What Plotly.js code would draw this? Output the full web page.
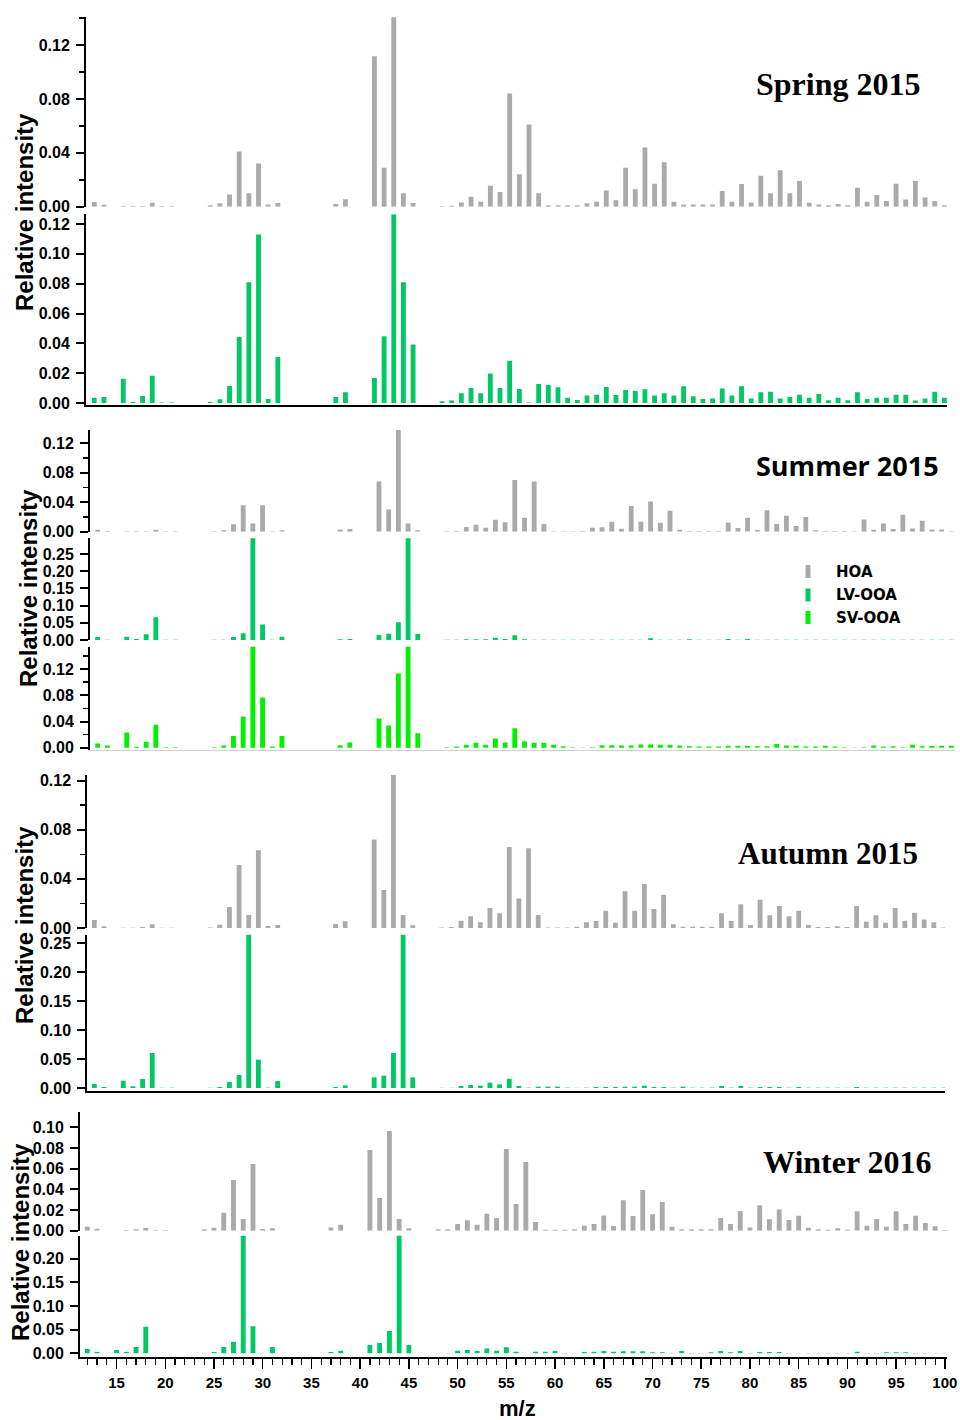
<!DOCTYPE html>
<html><head><meta charset="utf-8">
<script src="https://cdn.plot.ly/plotly-3.0.1.min.js"></script>
<style>html,body{margin:0;padding:0;background:#fff}#chart{width:960px;height:1420px}</style>
</head><body><div id="chart"></div>
<script>
// m/z categories
const mz = [12,13,15,16,17,18,19,20, 24,25,26,27,28,29,30,31, 37,38, 41,42,43,44,45,
  48,49,50,51,52,53,54,55,56, 57,58,59,60,61,62,63,64,65,66, 67,68,69,70,71,72,73,74,75,76,
  77,78,79,80,81,82,83,84,85,86, 87,88,89,90,91,92,93,94,95,96, 97,98,99,100];

const springHOA = [0.0035,0.0015,0.0005,0.0005,0.0005,0.003,0.0005,0.0005,
  0.001,0.0025,0.009,0.041,0.010,0.032,0.0017,0.0027, 0.002,0.0055,
  0.1116,0.029,0.141,0.010,0.0027,
  0.0005,0.0007,0.0032,0.0074,0.0037,0.0156,0.011,0.084,0.024,
  0.061,0.0099,0.001,0.001,0.001,0.001,0.0025,0.0037,0.012,0.0047,
  0.029,0.013,0.044,0.017,0.033,0.0037,0.0017,0.0017,0.0017,0.0017,
  0.0116,0.0037,0.0168,0.0032,0.023,0.010,0.027,0.010,0.019,0.003,
  0.0017,0.001,0.002,0.001,0.014,0.0037,0.0086,0.0042,0.017,0.0054,
  0.019,0.0069,0.0042,0.001];
const springLV = [0.0036,0.004,0.0163,0.0007,0.0047,0.0183,0.0003,0.0003,
  0.0007,0.0025,0.0114,0.0442,0.081,0.113,0.0027,0.0308, 0.004,0.0072,
  0.0168,0.0447,0.1265,0.081,0.0393,
  0.0011,0.0016,0.0065,0.010,0.0065,0.0197,0.010,0.0284,0.0094,
  0.0003,0.0127,0.012,0.0105,0.0036,0.002,0.0051,0.0056,0.0107,0.0054,
  0.0087,0.008,0.0092,0.0051,0.0065,0.0051,0.0112,0.0045,0.0027,0.0031,
  0.0098,0.0051,0.0112,0.0031,0.0072,0.0076,0.0031,0.004,0.0056,0.0036,
  0.006,0.0018,0.0036,0.0018,0.0072,0.0027,0.0036,0.0036,0.0056,0.0056,
  0.0016,0.0031,0.0076,0.0036];
const summerHOA = [0.0027,0.001,0.0005,0.0005,0.0005,0.0027,0.0005,0.0005,
  0.0005,0.002,0.010,0.036,0.011,0.036,0.0005,0.002, 0.003,0.0036,
  0.068,0.030,0.138,0.011,0.0018,
  0.0005,0.001,0.0063,0.0095,0.0054,0.0163,0.0127,0.070,0.019,
  0.068,0.0104,0.0005,0.0005,0.0005,0.001,0.0054,0.006,0.0136,0.004,
  0.035,0.0136,0.041,0.012,0.0285,0.0027,0.001,0.001,0.001,0.001,
  0.012,0.005,0.019,0.0023,0.029,0.0104,0.0217,0.0077,0.02,0.0018,
  0.001,0.001,0.001,0.0005,0.0167,0.0027,0.011,0.0036,0.023,0.0045,
  0.015,0.003,0.003,0.0005];
const summerLV = [0.009,0.0005,0.0097,0.003,0.0165,0.066,0.001,0.001,
  0.001,0.0005,0.009,0.020,0.31,0.045,0.0005,0.0097, 0.002,0.003,
  0.0146,0.018,0.052,0.31,0.0175,
  0.0005,0.0005,0.002,0.002,0.002,0.0068,0.003,0.0136,0.002,
  0.0005,0.0005,0.001,0.001,0.0005,0.0005,0.001,0.001,0.001,0.001,
  0.001,0.001,0.005,0.001,0.001,0.0005,0.002,0.001,0.0005,0.0005,
  0.003,0.0005,0.003,0.0005,0.0005,0.0005,0.0005,0.0005,0.0005,0.0005,
  0.0005,0.0005,0.0005,0.0005,0.0005,0.0005,0.0005,0.0005,0.0005,0.0005,
  0.0005,0.0005,0.0005,0.0005];
const summerSV = [0.0066,0.0035,0.0233,0.0015,0.0091,0.035,0.001,0.001,
  0.001,0.0035,0.0182,0.0476,0.16,0.0765,0.002,0.0182, 0.004,0.0081,
  0.0446,0.034,0.113,0.16,0.0223,
  0.001,0.002,0.0046,0.0076,0.0046,0.0142,0.0081,0.030,0.010,
  0.0076,0.0076,0.0046,0.0025,0.001,0.0005,0.001,0.004,0.004,0.0035,
  0.0035,0.005,0.005,0.0046,0.0046,0.0035,0.0025,0.002,0.002,0.002,
  0.003,0.003,0.003,0.0025,0.0025,0.006,0.0035,0.003,0.002,0.002,
  0.003,0.002,0.001,0.0005,0.001,0.0035,0.002,0.0025,0.001,0.0046,
  0.0025,0.003,0.003,0.003];
const autumnHOA = [0.0065,0.0014,0.0003,0.0003,0.0008,0.003,0.0003,0.0003,
  0.0005,0.0027,0.0171,0.0513,0.0106,0.0633,0.0016,0.0024, 0.0033,0.0054,
  0.072,0.031,0.1246,0.0106,0.0022,
  0.0005,0.0008,0.006,0.0095,0.0046,0.0163,0.012,0.066,0.024,
  0.065,0.0106,0.0005,0.0005,0.0005,0.001,0.0046,0.0057,0.014,0.0043,
  0.030,0.014,0.0358,0.0155,0.027,0.003,0.001,0.001,0.001,0.001,
  0.012,0.0057,0.0193,0.0024,0.023,0.0103,0.018,0.0095,0.014,0.0024,
  0.0008,0.0008,0.0014,0.0008,0.018,0.005,0.0103,0.0043,0.0163,0.006,
  0.0125,0.007,0.0046,0.0005];
const autumnLV = [0.0069,0.0017,0.0127,0.0029,0.0156,0.0605,0.0003,0.0003,
  0.0003,0.0017,0.0104,0.0225,0.28,0.049,0.0006,0.012, 0.0017,0.0046,
  0.0184,0.0213,0.0605,0.28,0.0184,
  0.0003,0.0003,0.0035,0.0052,0.004,0.0092,0.0063,0.016,0.0035,
  0.0006,0.0023,0.0023,0.0023,0.0006,0.0003,0.0006,0.0017,0.0017,0.0017,
  0.0023,0.0023,0.004,0.0017,0.0017,0.0006,0.0023,0.0006,0.0006,0.0006,
  0.0035,0.0006,0.0035,0.0006,0.0017,0.0017,0.0017,0.0006,0.0017,0.0006,
  0.0006,0.0006,0.0006,0.0003,0.0017,0.0006,0.0006,0.0006,0.0006,0.0006,
  0.0006,0.0006,0.0006,0.0006];
const winterHOA = [0.0039,0.0019,0,0.0006,0.0013,0.0026,0.0006,0.0006,
  0.0013,0.0029,0.0174,0.049,0.0113,0.0645,0.0016,0.0023, 0.0032,0.0058,
  0.078,0.0316,0.0965,0.0113,0.0023,
  0.0013,0.0013,0.0065,0.010,0.0058,0.0165,0.0123,0.079,0.0258,
  0.0665,0.0084,0.001,0.001,0.001,0.0013,0.0048,0.0065,0.0148,0.0045,
  0.0294,0.0142,0.0394,0.0158,0.0277,0.0039,0.0013,0.0013,0.0013,0.0013,
  0.0123,0.0065,0.019,0.0032,0.0245,0.011,0.0206,0.0103,0.0145,0.0029,
  0.0013,0.001,0.0023,0.001,0.0187,0.0048,0.0113,0.0039,0.0187,0.0065,
  0.0145,0.0074,0.0042,0.0006];
const winterLV = [0.0092,0.0028,0.007,0.0028,0.0134,0.0563,0.0003,0.0003,
  0.0007,0.0028,0.0134,0.0246,0.26,0.057,0.0007,0.0134, 0.0028,0.0056,
  0.0176,0.0218,0.047,0.26,0.0176,
  0.0007,0.0007,0.0056,0.007,0.005,0.0099,0.0056,0.0127,0.0035,
  0.0003,0.0035,0.0035,0.005,0.0007,0.0007,0.0028,0.0035,0.005,0.0035,
  0.0042,0.0042,0.0042,0.0021,0.0021,0.0007,0.005,0.0007,0.0007,0.0021,
  0.005,0.0021,0.005,0.0007,0.0028,0.0028,0.0028,0.0007,0.0007,0.0007,
  0.0007,0.0007,0.0007,0.0007,0.0035,0.0007,0.0007,0.0021,0.0021,0.0021,
  0.0007,0.0007,0.0007,0.0007];

const seasonTitles = ['Spring 2015','Summer 2015','Autumn 2015','Winter 2016'];
const legendNames = ['HOA','LV-OOA','SV-OOA'];
const yTitle = 'Relative intensity';
const xTitle = 'm/z';

const C_HOA = '#aaaaaa', C_LV = '#00c864', C_SV = '#00f000';
const W = 960, H = 1420;
const fx = v => v / W, fy = v => 1 - v / H;

// panel geometry (pixels)
const panels = [
  {y: springHOA, c: C_HOA, xl: 86, xr: 947, xa: [11.14, 100.27], yt: 17.3, yb: 206.7, ya: [0, 0.1406], dt: 0.04, mn: 0.02},
  {y: springLV,  c: C_LV,  xl: 86, xr: 947, xa: [11.14, 100.27], yt: 214.3, yb: 405.3, ya: [-0.00154, 0.1265], dt: 0.02, line: '#000'},
  {y: summerHOA, c: C_HOA, xl: 90, xr: 955, xa: [11.21, 100.38], yt: 430, yb: 531.7, ya: [0, 0.138], dt: 0.04, mn: 0.02},
  {y: summerLV,  c: C_LV,  xl: 90, xr: 955, xa: [11.21, 100.38], yt: 538.3, yb: 640, ya: [0, 0.296], dt: 0.05},
  {y: summerSV,  c: C_SV,  xl: 90, xr: 955, xa: [11.21, 100.38], yt: 646.7, yb: 750, ya: [-0.0033, 0.154], dt: 0.04, mn: 0.02, line: '#d0d0d0'},
  {y: autumnHOA, c: C_HOA, xl: 87.3, xr: 945, xa: [11.27, 100.16], yt: 775, yb: 928, ya: [0, 0.1246], dt: 0.04, mn: 0.02},
  {y: autumnLV,  c: C_LV,  xl: 87.3, xr: 945, xa: [11.27, 100.16], yt: 934.7, yb: 1091, ya: [-0.0052, 0.265], dt: 0.05, line: '#000'},
  {y: winterHOA, c: C_HOA, xl: 80, xr: 947, xa: [11.25, 100.22], yt: 1112.3, yb: 1230.7, ya: [0, 0.1145], dt: 0.02},
  {y: winterLV,  c: C_LV,  xl: 80, xr: 947, xa: [11.25, 100.22], yt: 1235.7, yb: 1356.7, ya: [-0.0072, 0.2486], dt: 0.05, line: '#000', bottom: true}
];

const tickFont = {family: 'Liberation Sans, Arial, sans-serif', size: 16, color: '#000', weight: 'bold'};
const traces = [];
const layout = {
  width: W, height: H, margin: {l: 0, r: 0, t: 0, b: 0},
  paper_bgcolor: '#fff', plot_bgcolor: 'rgba(0,0,0,0)', showlegend: false,
  annotations: [], shapes: []
};

panels.forEach((p, i) => {
  const n = i === 0 ? '' : String(i + 1);
  traces.push({type: 'bar', x: mz, y: p.y, width: 0.5, marker: {color: p.c, line: {width: 0}},
    xaxis: 'x' + n, yaxis: 'y' + n, hoverinfo: 'x+y'});
  const xa = {
    domain: [fx(p.xl), fx(p.xr)], range: p.xa, anchor: 'y' + n,
    showgrid: false, zeroline: false, fixedrange: true,
    showline: !!p.line, linecolor: p.line || '#000', linewidth: p.line === '#000' ? 2 : 1,
    showticklabels: false, ticks: ''
  };
  if (p.bottom) {
    Object.assign(xa, {ticks: 'outside', ticklen: 10, tickwidth: 1.5, tickcolor: '#000',
      tick0: 0, dtick: 5, showticklabels: true,
      tickfont: {family: 'Liberation Sans, Arial, sans-serif', size: 15, color: '#000', weight: 'bold'},
      ticklabelstandoff: 1,
      minor: {ticks: 'outside', dtick: 1, ticklen: 6, tickwidth: 1.2, tickcolor: '#000'}});
  }
  const ya = {
    domain: [fy(p.yb), fy(p.yt)], range: p.ya, anchor: 'x' + n,
    showgrid: false, zeroline: false, fixedrange: true,
    showline: true, linecolor: '#000', linewidth: 2,
    ticks: 'outside', ticklen: 8, tickwidth: 2, tickcolor: '#000',
    tick0: 0, dtick: p.dt, tickformat: '.2f', tickfont: tickFont, ticklabelstandoff: 3
  };
  if (p.mn) ya.minor = {ticks: 'outside', dtick: p.mn, ticklen: 5, tickwidth: 1.5, tickcolor: '#000'};
  layout['xaxis' + n] = xa;
  layout['yaxis' + n] = ya;
});

const serif = {family: 'Liberation Serif, Times New Roman, serif', color: '#000', weight: 'bold'};
const titlePos = [
  {x: 838, y: 84, f: Object.assign({size: 32}, serif)},
  {x: 847, y: 465, f: {family: 'Open Sans, sans-serif', size: 27, color: '#000', weight: 'bold'}},
  {x: 828, y: 853, f: Object.assign({size: 31}, serif)},
  {x: 847, y: 1162, f: Object.assign({size: 32}, serif)}
];
seasonTitles.forEach((t, i) => {
  layout.annotations.push({text: '<b>' + t + '</b>', xref: 'paper', yref: 'paper',
    x: fx(titlePos[i].x), y: fy(titlePos[i].y), xanchor: 'center', yanchor: 'middle',
    showarrow: false, font: titlePos[i].f});
});

const yTitlePos = [{x: 24, y: 212}, {x: 28, y: 588}, {x: 24, y: 925}, {x: 20, y: 1242}];
yTitlePos.forEach(q => {
  layout.annotations.push({text: '<b>' + yTitle + '</b>', textangle: -90, xref: 'paper', yref: 'paper',
    x: fx(q.x), y: fy(q.y), xanchor: 'center', yanchor: 'middle', showarrow: false,
    font: {family: 'Liberation Sans, Arial, sans-serif', size: 24, color: '#000', weight: 'bold'}});
});

layout.annotations.push({text: '<b>' + xTitle + '</b>', xref: 'paper', yref: 'paper',
  x: fx(517), y: fy(1408), xanchor: 'center', yanchor: 'middle', showarrow: false,
  font: {family: 'Liberation Sans, Arial, sans-serif', size: 22, color: '#000', weight: 'bold'}});

// legend (vertical bar markers + labels)
const legColors = [C_HOA, C_LV, C_SV];
const legY = [571.5, 595, 617.5];
legendNames.forEach((nm, i) => {
  layout.shapes.push({type: 'rect', xref: 'paper', yref: 'paper',
    x0: fx(805.5), x1: fx(810.5), y0: fy(legY[i] + 6.5), y1: fy(legY[i] - 6.5),
    fillcolor: legColors[i], line: {width: 0}});
  layout.annotations.push({text: '<b>' + nm + '</b>', xref: 'paper', yref: 'paper',
    x: fx(834), y: fy(legY[i]), xanchor: 'left', yanchor: 'middle', showarrow: false,
    font: {family: 'DejaVu Sans, Verdana, sans-serif', size: 15, color: '#000', weight: 'bold'}});
});

Plotly.newPlot('chart', traces, layout, {staticPlot: true, displayModeBar: false});
</script></body></html>
